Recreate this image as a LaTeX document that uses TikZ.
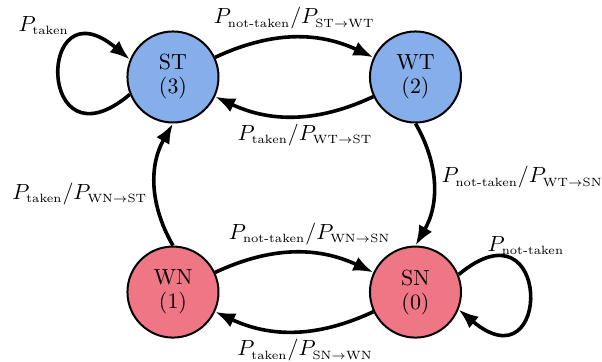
\documentclass[tikz,border=0pt]{standalone}
\usepackage{amsmath}
\usepackage{amssymb}
\usepackage{tikz}
\usetikzlibrary{arrows.meta}
\definecolor{takenblue}{RGB}{133,174,234}
\definecolor{nottakenred}{RGB}{239,119,133}
\newcommand{\tk}{\text{taken}}
\newcommand{\ntk}{\text{not-taken}}
\newcommand{\pr}[1]{P_{\scriptscriptstyle #1}}

\begin{document}
\begin{tikzpicture}[font=\fontsize{10.95}{12}\selectfont,
    state/.style={circle, draw=black, line width=1pt, minimum size=1.6cm, inner sep=0pt, align=center},
    trans/.style={-{Latex[length=10pt,width=7.5pt]}, black, line width=1.8pt}]
    \useasboundingbox (-3.04,1.353) rectangle (7.54,-5.008);

    \node[state, fill=takenblue] (3) at (0,0) {ST\\(3)};
    \node[state, fill=takenblue] (2) at (4.262,0) {WT\\(2)};
    \node[state, fill=nottakenred] (1) at (0,-3.78) {WN\\(1)};
    \node[state, fill=nottakenred] (0) at (4.262,-3.78) {SN\\(0)};

    \path
    (3) [trans] edge [bend left=25] node [above, pos=0.5] {$\pr{\ntk}/\pr{\text{ST}\rightarrow\text{WT}}$} (2)
    (2) [trans] edge [bend left=25] node [below, pos=0.43] {$\pr{\tk}/\pr{\text{WT}\rightarrow\text{ST}}$} (3)
    (1) [trans] edge [bend left=25] node [above, pos=0.6] {$\pr{\ntk}/\pr{\text{WN}\rightarrow\text{SN}}$} (0)
    (0) [trans] edge [bend left=25] node [below, pos=0.43] {$\pr{\tk}/\pr{\text{SN}\rightarrow\text{WN}}$} (1)
    (1.north) [trans] edge [bend left=30] node [left, pos=0.42] {$\pr{\tk}/\pr{\text{WN}\rightarrow\text{ST}}$} (3.south)
    (2.south) [trans] edge [bend left=30] node [right, pos=0.44] {$\pr{\ntk}/\pr{\text{WT}\rightarrow\text{SN}}$} (0.north)
    % self loops
    (3.202) [trans] edge [out=220, in=140, looseness=9] node [above left, pos=0.75] {$\pr{\tk}$} (3.158)
    (0.22) [trans] edge [out=40, in=-40, looseness=9] node [anchor=south west, inner sep=1pt, pos=0.1] {$\pr{\ntk}$} (0.-22);
\end{tikzpicture}
\end{document}
